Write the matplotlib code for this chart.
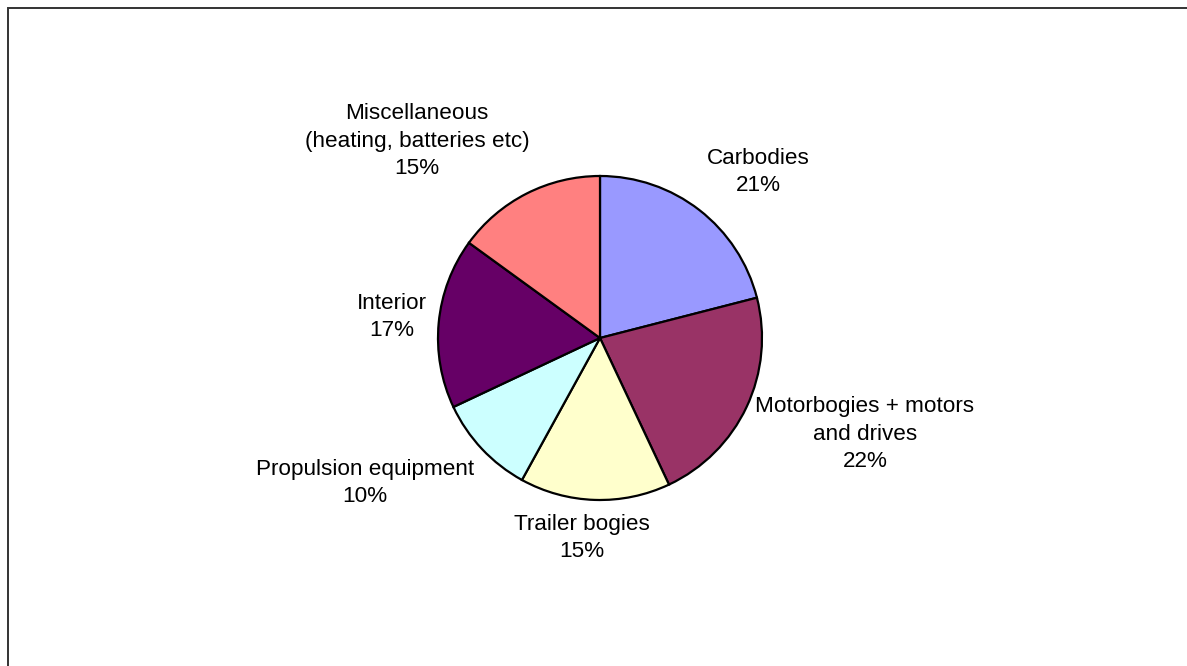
import matplotlib
matplotlib.use("Agg")
import matplotlib.pyplot as plt
from matplotlib.patches import Rectangle

# Cost breakdown of the vehicle (clockwise from 12 o'clock)
categories = [
    "Carbodies",
    "Motorbogies + motors\nand drives",
    "Trailer bogies",
    "Propulsion equipment",
    "Interior",
    "Miscellaneous\n(heating, batteries etc)",
]
shares = [21, 22, 15, 10, 17, 15]
colors = ["#9999FF", "#993366", "#FFFFCC", "#CCFFFF", "#660066", "#FF8080"]

# Label anchor points in pixel space (x, y from top)
label_pos = [(758, 172), (865, 434), (582, 538), (365, 483), (392, 317), (417, 141)]

W, H = 1187, 666
fig = plt.figure(figsize=(W / 100, H / 100), dpi=100)
ax = fig.add_axes([0, 0, 1, 1])

# Chart area frame
ax.add_patch(Rectangle((7.5, -20), W + 40, H - 7.5 + 20, fill=False,
                       edgecolor="#333333", linewidth=1.4))

cx, cy, r = 600, H - 338, 162
ax.pie(shares, colors=colors, startangle=90, counterclock=False,
       center=(cx, cy), radius=r, frame=True,
       wedgeprops=dict(edgecolor="black", linewidth=1.6))
ax.set_xlim(0, W)
ax.set_ylim(0, H)
ax.set_aspect("equal")
ax.axis("off")

for name, val, (x, y) in zip(categories, shares, label_pos):
    ax.text(x, H - y, f"{name}\n{val}%", ha="center", va="center",
            fontsize=16.2, family="Liberation Sans", color="black",
            linespacing=1.42)

fig.savefig("out.png", dpi=100)
